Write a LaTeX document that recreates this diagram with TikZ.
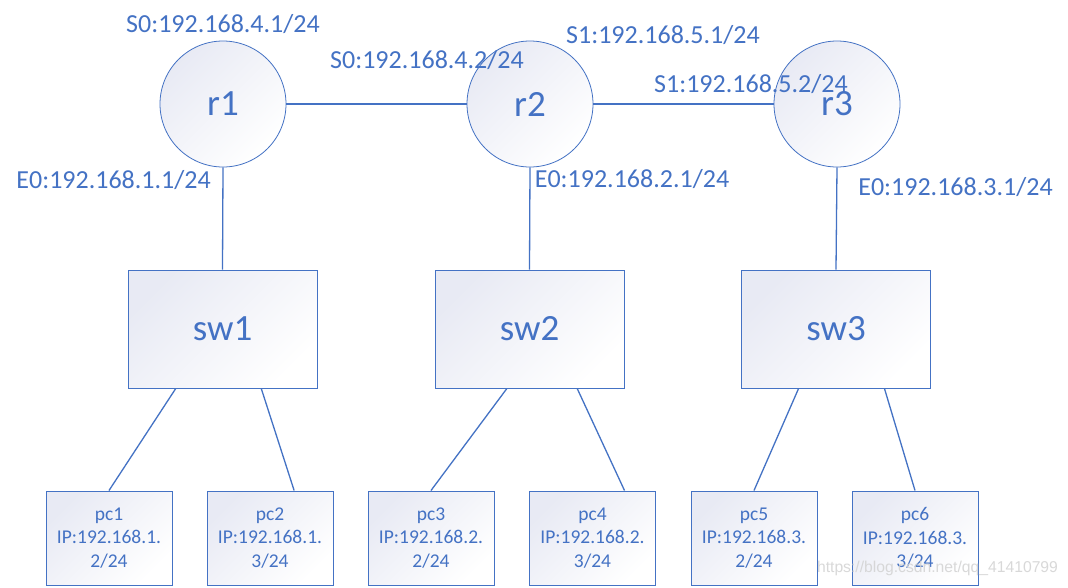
\documentclass[tikz,border=0pt]{standalone}
\usepackage{fontspec}
\setmainfont{Carlito}
\newfontfamily\wmfont{Liberation Sans}
\usetikzlibrary{calc}
\definecolor{netblue}{HTML}{4472C4}
\definecolor{shadeblue}{HTML}{E8EAF4}
\begin{document}
\begin{tikzpicture}[x=1pt,y=-1pt,
  shadefill/.style={top color=shadeblue, bottom color=white, shading angle=45},
  router/.style={circle, draw=netblue, line width=0.8pt, minimum size=126pt, inner sep=0pt, shadefill, text=netblue, font=\fontsize{37}{44}\selectfont},
  switchbox/.style={rectangle, draw=netblue, line width=1pt, minimum width=189pt, minimum height=118pt, inner sep=0pt, shadefill, text=netblue, font=\fontsize{37}{44}\selectfont},
  pcbox/.style={rectangle, draw=netblue, line width=1pt, minimum width=126pt, minimum height=94pt, inner sep=0pt, shadefill, text=netblue, align=center, font=\fontsize{19.5}{23.5}\selectfont},
  iflabel/.style={text=netblue, inner sep=0pt, font=\fontsize{26}{30}\selectfont},
  link/.style={draw=netblue, line width=1.3pt}]
\path[use as bounding box, fill=white] (0,0) rectangle (1068,587);

% routers
\node[router] (r1) at (223,104) {r1};
\node[router] (r2) at (530,104) {r2};
\node[router] (r3) at (837,104) {r3};

% switches
\node[switchbox] (sw1) at (222.5,329) {sw1};
\node[switchbox] (sw2) at (529.5,329) {sw2};
\node[switchbox] (sw3) at (836,329) {sw3};

% pcs
\node[pcbox] (pc1) at (109,538) {pc1\\IP:192.168.1.\\2/24};
\node[pcbox] (pc2) at (270,538) {pc2\\IP:192.168.1.\\3/24};
\node[pcbox] (pc3) at (431,538) {pc3\\IP:192.168.2.\\2/24};
\node[pcbox] (pc4) at (592.5,538) {pc4\\IP:192.168.2.\\3/24};
\node[pcbox] (pc5) at (754,538) {pc5\\IP:192.168.3.\\2/24};
\node[pcbox] (pc6) at (915,538) {pc6\\IP:192.168.3.\\3/24};

% links
\draw[link] (r1.east) -- (r2.west);
\draw[link] (r2.east) -- (r3.west);
\draw[link] (r1.south) -- (sw1.north);
\draw[link] (r2.south) -- (sw2.north);
\draw[link] (r3.south) -- (sw3.north);
\draw[link] ($(sw1.south west)!0.254!(sw1.south east)$) -- (pc1.north);
\draw[link] ($(sw1.south west)!0.704!(sw1.south east)$) -- ($(pc2.north west)!0.69!(pc2.north east)$);
\draw[link] ($(sw2.south west)!0.381!(sw2.south east)$) -- (pc3.north);
\draw[link] ($(sw2.south west)!0.751!(sw2.south east)$) -- ($(pc4.north west)!0.752!(pc4.north east)$);
\draw[link] ($(sw3.south west)!0.303!(sw3.south east)$) -- (pc5.north);
\draw[link] ($(sw3.south west)!0.755!(sw3.south east)$) -- (pc6.north);

% interface labels
\node[iflabel] (l1) at (223,24) {S0:192.168.4.1/24};
\node[iflabel] (l2) at (427,60) {S0:192.168.4.2/24};
\node[iflabel] (l3) at (663,35) {S1:192.168.5.1/24};
\node[iflabel] (l4) at (751,84) {S1:192.168.5.2/24};
\node[iflabel] (l5) at (113.6,180) {E0:192.168.1.1/24};
\node[iflabel] (l6) at (632,179) {E0:192.168.2.1/24};
\node[iflabel] (l7) at (955.5,187) {E0:192.168.3.1/24};

% watermark
\node[text=gray!35, opacity=0.85, inner sep=0pt, font=\wmfont\fontsize{15.7}{18}\selectfont] (wm) at (937.5,568) {https://blog.csdn.net/qq\_41410799};
\end{tikzpicture}
\end{document}
